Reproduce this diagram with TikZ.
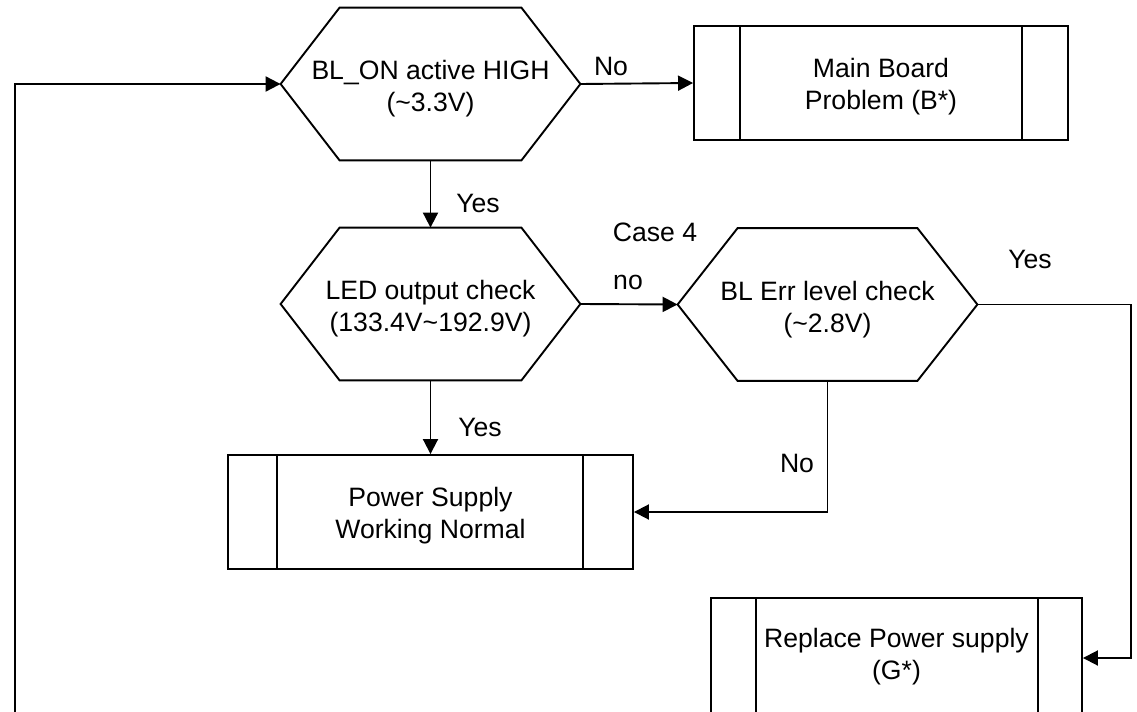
\documentclass[tikz,border=0pt]{standalone}
\usepackage{fontspec}
\setmainfont{Liberation Sans}
\usetikzlibrary{arrows.meta,calc}
\tikzset{
  conn/.style={line width=0.95pt,-{Triangle[length=7.5pt,width=7.5pt]}},
  plain/.style={line width=0.95pt},
  hexnode/.style={inner sep=0pt,minimum width=149.5pt,minimum height=76pt},
  txt/.style={inner sep=0pt,align=center,font=\fontsize{13.3}{16}\selectfont},
  procbox/.style={draw,line width=0.95pt,inner sep=0pt,minimum height=57pt},
  lbl/.style={font=\fontsize{13.3}{16}\selectfont,inner sep=0pt}
}
\newcommand\hexdraw[2]{%
  \draw[plain] (#1.west) -- ([xshift=#2]#1.north west) -- ([xshift=-#2]#1.north east)
    -- (#1.east) -- ([xshift=-#2]#1.south east) -- ([xshift=#2]#1.south west) -- cycle;}
\newcommand\sublines[3]{%
  \draw[plain] ([xshift=#2]#1.north west) -- ([xshift=#2]#1.south west);
  \draw[plain] ([xshift=-#3]#1.north east) -- ([xshift=-#3]#1.south east);}
\begin{document}
\begin{tikzpicture}[x=0.5pt,y=-0.5pt]
\useasboundingbox (0,0) rectangle (1137,712);
% decision hexagons
\node[hexnode] (h1) at (430.5,84) {};
\hexdraw{h1}{29.5pt}
\node[txt] (h1t) at (430.5,89) {BL\_ON active HIGH\\(\textasciitilde3.3V)};
\node[hexnode] (h2) at (430.5,304) {};
\hexdraw{h2}{29.5pt}
\node[txt] (h2t) at (430.5,309) {LED output check\\(133.4V\textasciitilde192.9V)};
\node[hexnode] (h3) at (827.5,304.5) {};
\hexdraw{h3}{30pt}
\node[txt] (h3t) at (827.5,309.5) {BL Err level check\\(\textasciitilde2.8V)};
% process boxes
\node[procbox,minimum width=187pt] (mb) at (881,83) {};
\sublines{mb}{23.5pt}{23.5pt}
\node[txt] (mbt) at (881,87) {Main Board\\Problem (B*)};
\node[procbox,minimum width=202.5pt] (ps) at (430.5,512) {};
\sublines{ps}{25pt}{25.5pt}
\node[txt] (pst) at (430.5,516) {Power Supply\\Working Normal};
\node[procbox,minimum width=185.5pt,minimum height=60pt] (rp) at (896.5,658) {};
\sublines{rp}{23pt}{22.5pt}
\node[txt] (rpt) at (896.5,657) {Replace Power supply\\(G*)};
% helper coordinates
\coordinate (rc) at (1131,304.5);
\coordinate (lb) at (15,730);
% connectors
\draw[conn] (h1.east) -- (mb.west);
\draw[conn] (h1.south) -- (h2.north);
\draw[conn] (h2.east) -- (h3.west);
\draw[conn] (h2.south) -- (ps.north);
\draw[conn] (h3.south) |- (ps.east);
\draw[conn] (h3.east) -- (rc) |- (rp.east);
\draw[conn] (lb) |- (h1.west);
% labels
\node[lbl] (l1) at (611,66) {No};
\node[lbl] (l2) at (478,203) {Yes};
\node[lbl] (l3) at (655,232) {Case 4};
\node[lbl] (l4) at (628,282) {no};
\node[lbl] (l5) at (1030,259) {Yes};
\node[lbl] (l6) at (480,427) {Yes};
\node[lbl] (l7) at (797,463) {No};
\end{tikzpicture}
\end{document}
